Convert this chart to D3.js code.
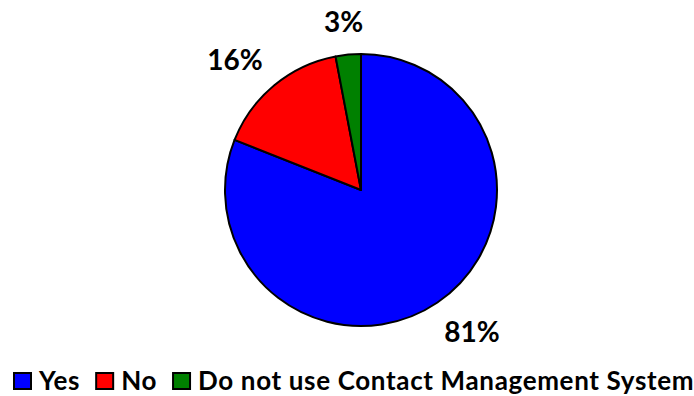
<!DOCTYPE html>
<html>
<head>
<meta charset="utf-8">
<script src="https://cdn.jsdelivr.net/npm/d3@7"></script>
<style>
  html, body { margin: 0; padding: 0; background: #fff; }
  svg { display: block; }
  text { font-family: Lato, "Open Sans", sans-serif; font-weight: bold; fill: #000; }
</style>
</head>
<body>
<svg id="chart" width="694" height="396"></svg>
<script>
// Survey answers: share of respondents (percent)
const categories = ["Yes", "No", "Do not use Contact Management System"];
const values = [81, 16, 3];
const colors = ["#0000FF", "#FF0000", "#008000"];
const valueLabels = ["81%", "16%", "3%"];

const svg = d3.select("#chart");
const cx = 361, cy = 190, radius = 136;

const color = d3.scaleOrdinal().domain(categories).range(colors);

const pie = d3.pie().sort(null).value(d => d.value);
const data = categories.map((c, i) => ({ name: c, value: values[i], label: valueLabels[i] }));
const arcs = pie(data);

const arc = d3.arc().innerRadius(0).outerRadius(radius);

const g = svg.append("g").attr("transform", `translate(${cx},${cy})`);

g.selectAll("path.slice")
  .data(arcs)
  .join("path")
  .attr("class", "slice")
  .attr("d", arc)
  .attr("fill", d => color(d.data.name))
  .attr("stroke", "#000")
  .attr("stroke-width", 2)
  .attr("stroke-linejoin", "round");

// Percentage labels placed just outside each slice: the label box is
// pushed outward along the slice's mid-angle by its own half-size.
const labelR = 156;
g.selectAll("text.pct")
  .data(arcs)
  .join("text")
  .attr("class", "pct")
  .attr("text-anchor", "middle")
  .attr("dominant-baseline", "central")
  .style("font-size", "28px")
  .text(d => d.data.label)
  .attr("transform", function (d) {
    const mid = (d.startAngle + d.endAngle) / 2;
    const dx = Math.sin(mid), dy = -Math.cos(mid);
    const halfW = this.getComputedTextLength() / 2, halfH = 14;
    const x = dx * (labelR + 1.5 * halfW);
    const y = dy * (labelR + halfH);
    return `translate(${x},${y})`;
  });

// Legend row along the bottom
const legend = svg.append("g").attr("transform", "translate(13,372)");
let xPos = 0;
data.forEach(d => {
  const item = legend.append("g").attr("transform", `translate(${xPos},0)`);
  item.append("rect")
    .attr("x", 1).attr("y", 1)
    .attr("width", 17).attr("height", 16)
    .attr("fill", color(d.name))
    .attr("stroke", "#000")
    .attr("stroke-width", 2);
  const t = item.append("text")
    .attr("x", 26)
    .attr("y", 18)
    .style("font-size", "26px")
    .style("letter-spacing", "0.65px")
    .text(d.name);
  xPos += 26 + t.node().getComputedTextLength() + 15;
});
</script>
</body>
</html>
